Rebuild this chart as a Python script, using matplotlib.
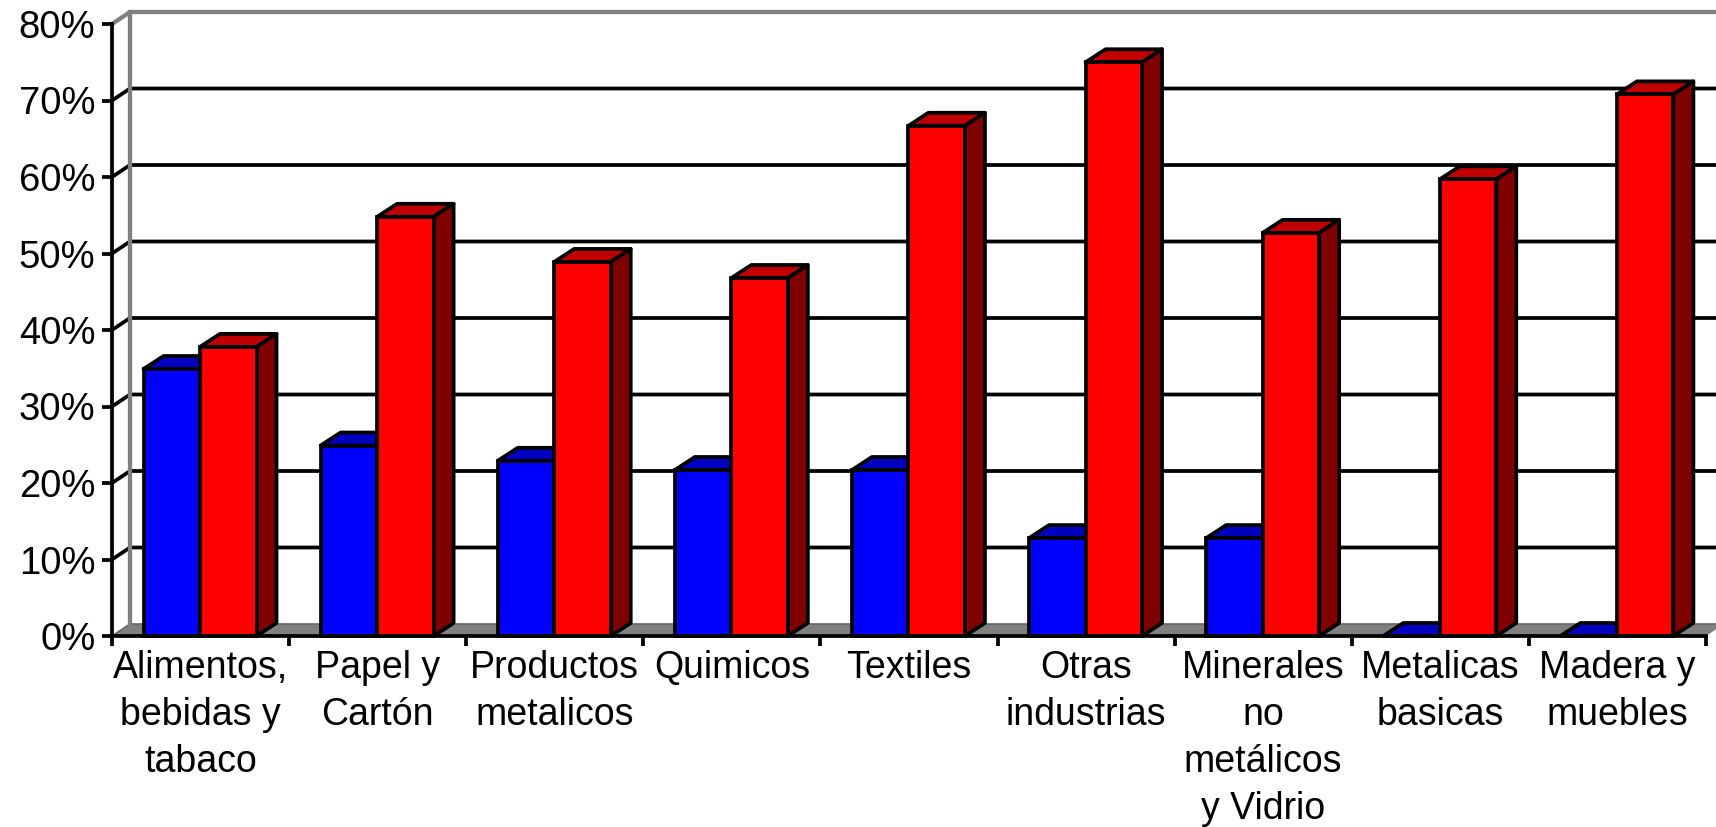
import matplotlib
matplotlib.use("Agg")
from matplotlib import pyplot as plt

categories = ["Alimentos,\nbebidas y\ntabaco", "Papel y\nCartón", "Productos\nmetalicos",
              "Quimicos", "Textiles", "Otras\nindustrias",
              "Minerales\nno\nmetálicos\ny Vidrio", "Metalicas\nbasicas", "Madera y\nmuebles"]
blue_values = [34.9, 24.9, 22.9, 21.7, 21.7, 12.8, 12.8, 0, 0]
red_values = [37.8, 54.8, 48.9, 46.8, 66.7, 75, 52.7, 59.7, 70.8]
y_ticks = [0, 10, 20, 30, 40, 50, 60, 70, 80]

plt.rcParams['font.family'] = ['Liberation Sans', 'DejaVu Sans']

W, H = 1716, 827
left, right, bottom, top = 112, 1706, 636, 24
fig = plt.figure(figsize=(W / 100, H / 100), dpi=100)
ax = fig.add_axes([left / W, 1 - bottom / H, (right - left) / W, (bottom - top) / H])
ax.set_xlim(0, len(categories))
ax.set_ylim(0, 80)

# pixel sizes turned into data units
px_x = len(categories) / (right - left)
px_y = 80 / (bottom - top)
wall_dx, wall_dy = 18 * px_x, 12 * px_y
bar_dx, bar_dy = 20 * px_x, 13 * px_y
bar_w = 56.5 * px_x
bar_off = 31.5 * px_x
lw = 2.7


def box(x, value, front, side_col, top_col, z):
    # top and side first, the front goes over them
    ax.fill([x, x + bar_dx, x + bar_w + bar_dx, x + bar_w],
            [value, value + bar_dy, value + bar_dy, value],
            facecolor=top_col, edgecolor="black", linewidth=lw, zorder=z, clip_on=False,
            joinstyle="round")
    ax.fill([x + bar_w, x + bar_w + bar_dx, x + bar_w + bar_dx, x + bar_w],
            [0, bar_dy, value + bar_dy, value],
            facecolor=side_col, edgecolor="black", linewidth=lw, zorder=z, clip_on=False,
            joinstyle="round")
    if value > 0:
        ax.bar(x, value, bar_w, align="edge", color=front, edgecolor="black",
               linewidth=lw, zorder=z + 0.1, clip_on=False)


# floor
n = len(categories)
ax.fill([0, wall_dx, n + wall_dx, n], [0, wall_dy, wall_dy, 0],
        facecolor="#808080", edgecolor="none", zorder=1, clip_on=False)
ax.plot([wall_dx, n + wall_dx], [wall_dy, wall_dy], color="#666666", lw=1.2, zorder=1.1, clip_on=False)
ax.plot([0, wall_dx], [0, wall_dy], color="#666666", lw=1.2, zorder=1.1, clip_on=False)

# back wall lines
for v in y_ticks[1:-1]:
    ax.plot([0, wall_dx, n + wall_dx], [v, v + wall_dy, v + wall_dy],
            color="black", lw=lw, zorder=1.2, clip_on=False, solid_joinstyle="round")
ax.plot([0, wall_dx, n + wall_dx], [80, 80 + wall_dy, 80 + wall_dy],
        color="#808080", lw=lw + 0.4, zorder=1.3, clip_on=False, solid_joinstyle="round")
ax.plot([wall_dx, wall_dx], [wall_dy, 80 + wall_dy], color="#808080", lw=lw + 0.4, zorder=1.3,
        clip_on=False)

for i in range(n):
    x = i + bar_off
    box(x, blue_values[i], "#0000ff", "#000080", "#0000c0", 2 + i)
    box(x + bar_w, red_values[i], "#ff0000", "#800000", "#c00000", 2.5 + i)

ax.set_facecolor("none")
ax.spines["top"].set_visible(False)
ax.spines["right"].set_visible(False)
ax.spines["left"].set_linewidth(lw)
ax.spines["bottom"].set_linewidth(lw)
ax.spines["left"].set_zorder(30)
ax.spines["bottom"].set_zorder(30)

ax.set_yticks(y_ticks)
ax.set_yticklabels(["%d%%" % v for v in y_ticks])
ax.tick_params(axis="y", length=7, width=lw, pad=5, labelsize=27.5)
ax.set_xticks(range(n + 1))
ax.set_xticklabels([])
ax.tick_params(axis="x", which="major", length=7, width=lw)
ax.set_xticks([i + 0.5 for i in range(n)], minor=True)
ax.set_xticklabels(categories, minor=True, fontsize=27, linespacing=1.4)
ax.tick_params(axis="x", which="minor", length=0, pad=10)

fig.savefig("out.png", dpi=100)
